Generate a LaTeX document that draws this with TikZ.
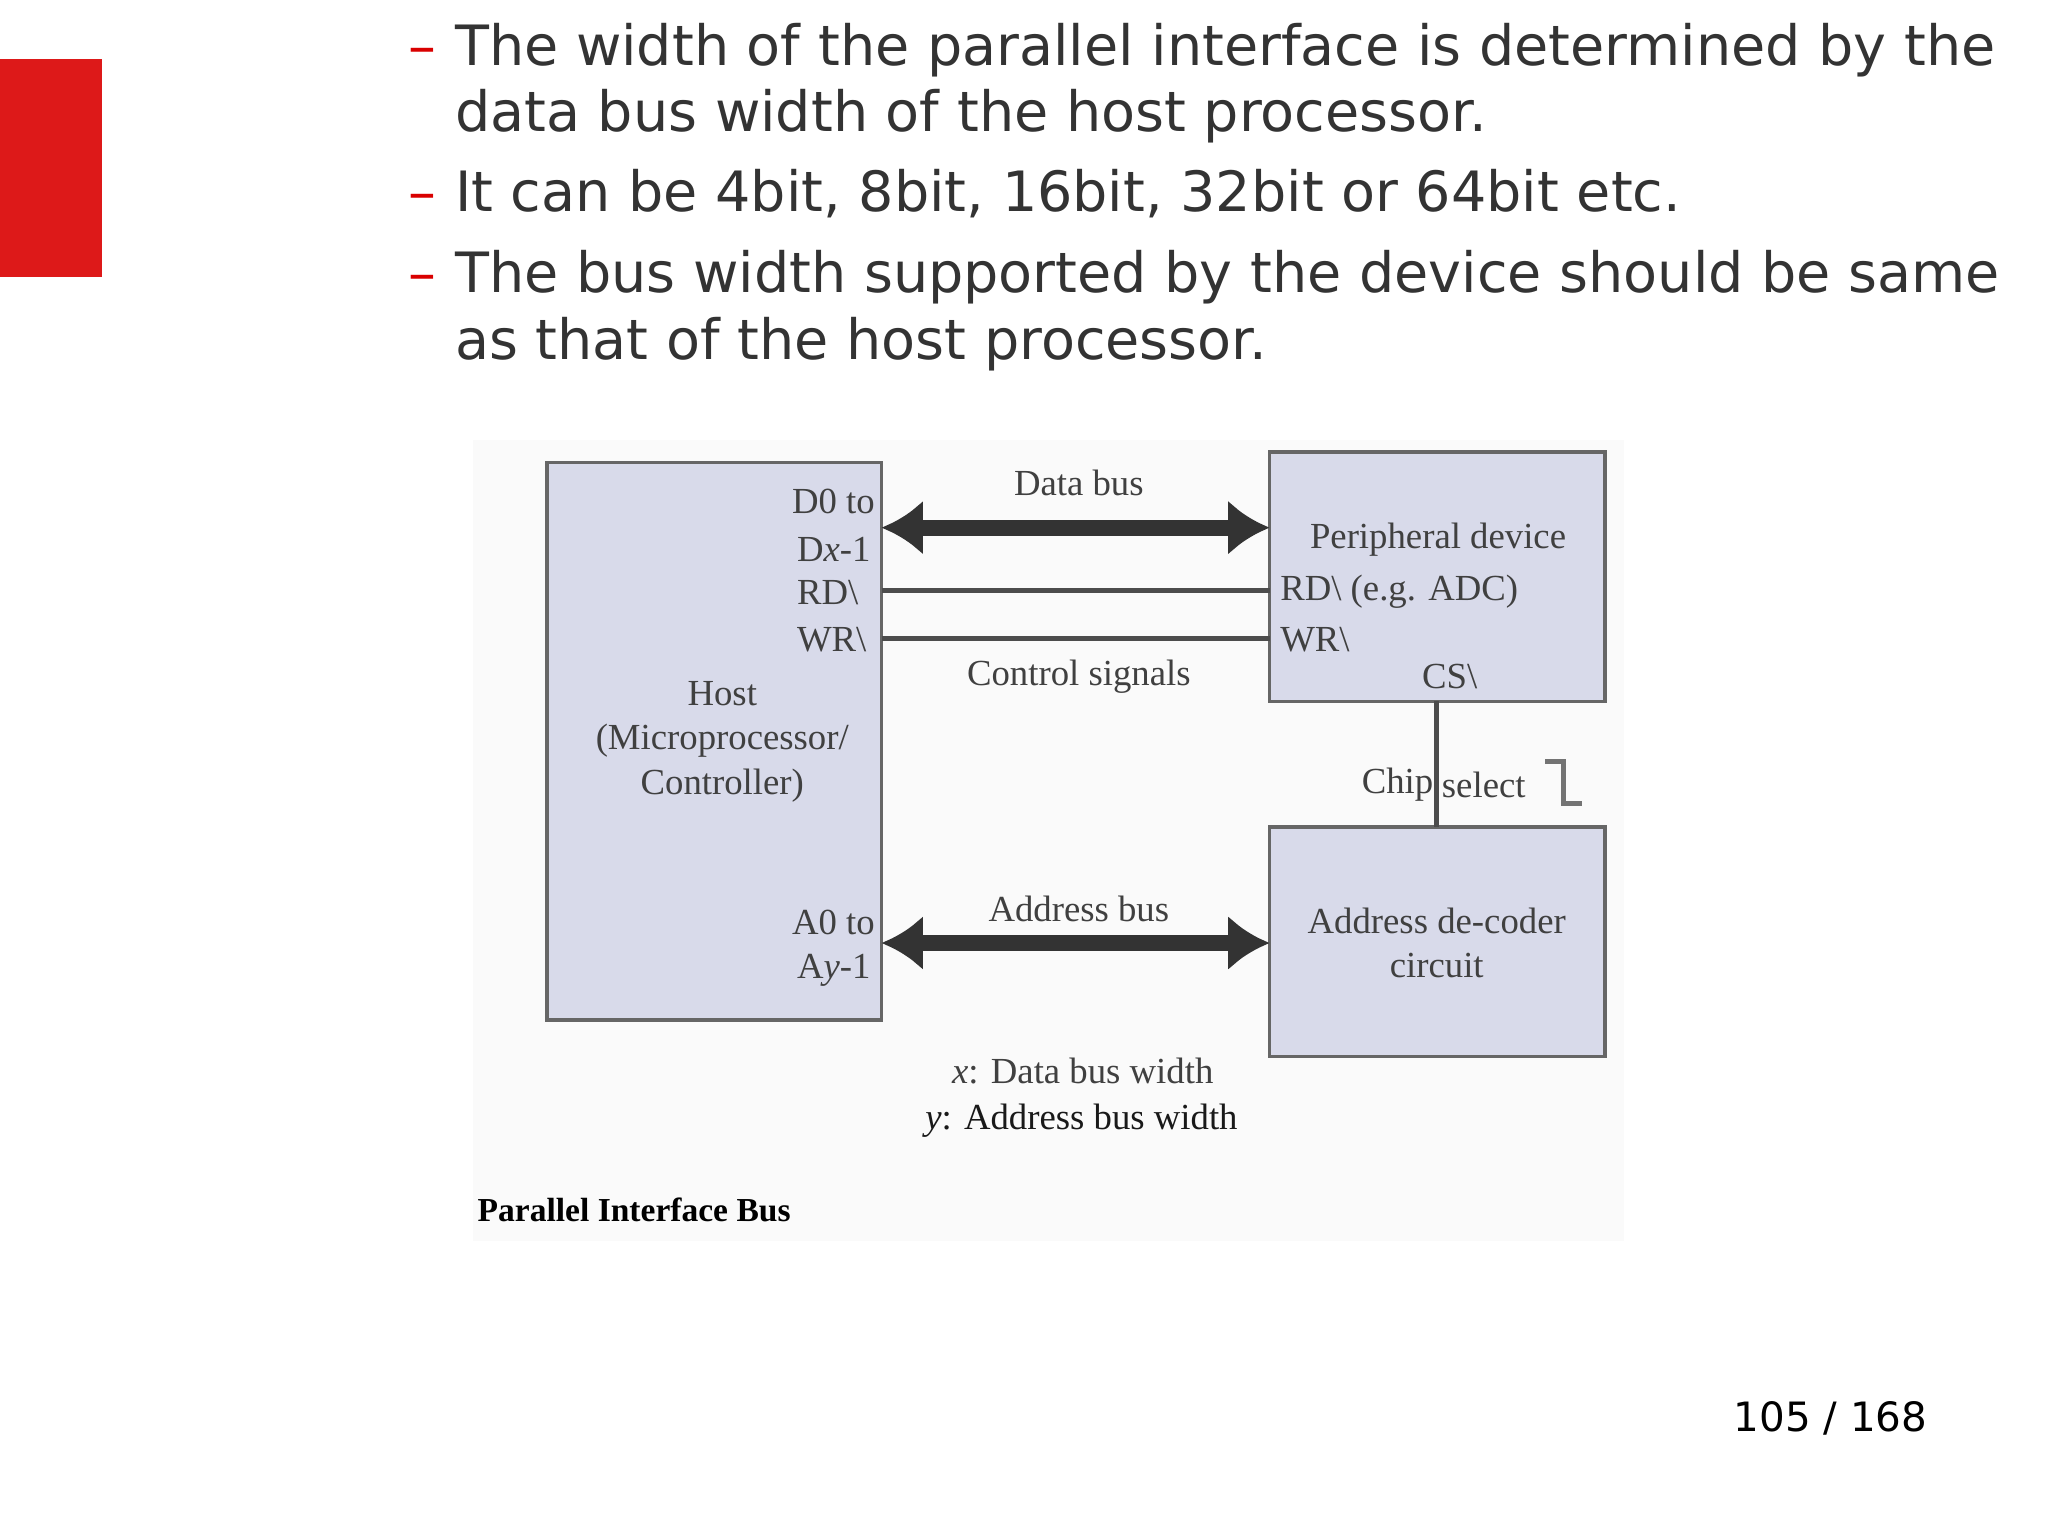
\documentclass[tikz,border=0pt]{standalone}
\usepackage{fontspec}
\setmainfont{DejaVu Sans}
\newfontfamily\dia{Liberation Serif}
\usetikzlibrary{arrows.meta}
\definecolor{lav}{RGB}{216,218,234}
\begin{document}
\begin{tikzpicture}[x=0.01cm,y=-0.01cm,
  bul/.style={anchor=base west,font=\fontsize{12.1}{14}\selectfont,text=black!80},
  reddash/.style={anchor=base west,font=\fontsize{12.1}{14}\selectfont,text=red!85!black},
  box/.style={draw=black!60,line width=0.8pt,fill=lav},
  dl/.style={font=\dia\fontsize{8}{9.6}\selectfont,text=black!75,inner sep=1pt},
  bus/.style={line width=3.5pt,black!80,{Latex[length=9pt,width=12pt]}-{Latex[length=9pt,width=12pt]}},
  sig/.style={line width=1.2pt,black!70}]
\useasboundingbox (0,0) rectangle (1568,1176);
\fill[red!85!black!90!white] (0,45) rectangle (78,212);
\node[reddash] (d1) at (300,50) {–};
\node[bul] (t1) at (336,50) {The width of the parallel interface is determined by the};
\node[bul] (t2) at (336,101) {data bus width of the host processor.};
\node[reddash] (d2) at (300,162) {–};
\node[bul] (t3) at (336,162) {It can be 4bit, 8bit, 16bit, 32bit or 64bit etc.};
\node[reddash] (d3) at (300,224) {–};
\node[bul] (t4) at (336,224) {The bus width supported by the device should be same};
\node[bul] (t5) at (336,275) {as that of the host processor.};
\fill[black!2] (362,337) rectangle (1243,950);
\draw[box] (419,354) rectangle (675,781);
\draw[box] (972,346) rectangle (1229,537);
\draw[box] (972,633) rectangle (1229,809);
\coordinate (hd) at (675,404); \coordinate (pd) at (972,404);
\coordinate (ha) at (675,722); \coordinate (da) at (972,722);
\coordinate (hr) at (675,452); \coordinate (pr) at (972,452);
\coordinate (hw) at (675,489); \coordinate (pw) at (972,489);
\coordinate (pc) at (1100,537); \coordinate (dc) at (1100,633);
\draw[bus] (hd) -- (pd);
\draw[bus] (ha) -- (da);
\draw[sig] (hr) -- (pr);
\draw[sig] (hw) -- (pw);
\draw[sig] (pc) -- (dc);
\draw[black!55,line width=1pt] (1183,583) -- (1197,583) -- (1197,615) -- (1211,615);
\node[dl,anchor=east] (l1) at (674,384) {D0 to};
\node[dl,anchor=west] (l2) at (606,421) {D\textit{x}-1};
\node[dl,anchor=west] (l3) at (606,454) {RD\textbackslash};
\node[dl,anchor=west] (l4) at (606,490) {WR\textbackslash};
\node[dl,align=center] (l5) at (553,568) {Host\\(Microprocessor/\\Controller)};
\node[dl,anchor=east] (l6) at (674,706) {A0 to};
\node[dl,anchor=west] (l7) at (606,743) {A\textit{y}-1};
\node[dl] (l8) at (826,370) {Data bus};
\node[dl] (l9) at (826,518) {Control signals};
\node[dl] (l10) at (826,696) {Address bus};
\node[dl] (l11) at (1101,413) {Peripheral device};
\node[dl,anchor=west] (l12) at (976,453) {RD\textbackslash{} (e.g. ADC)};
\node[dl,anchor=west] (l13) at (976,490) {WR\textbackslash};
\node[dl] (l14) at (1110,518) {CS\textbackslash};
\node[dl] (l15) at (1070,601) {Chip};
\node[dl] (l16) at (1136,601) {select};
\node[dl,align=center] (l17) at (1100,722) {Address de-coder\\circuit};
\node[dl] (l18) at (829,820) {\textit{x}: Data bus width};
\node[dl,text=black!90] (l19) at (828,858) {\textit{y}: Address bus width};
\node[font=\dia\bfseries\fontsize{7.3}{9}\selectfont,anchor=west,inner sep=0] (cap) at (365,926) {Parallel Interface Bus};
\node[anchor=base east,font=\fontsize{8.8}{11}\selectfont] (pg) at (1488,1096) {105 / 168};
\end{tikzpicture}
\end{document}
